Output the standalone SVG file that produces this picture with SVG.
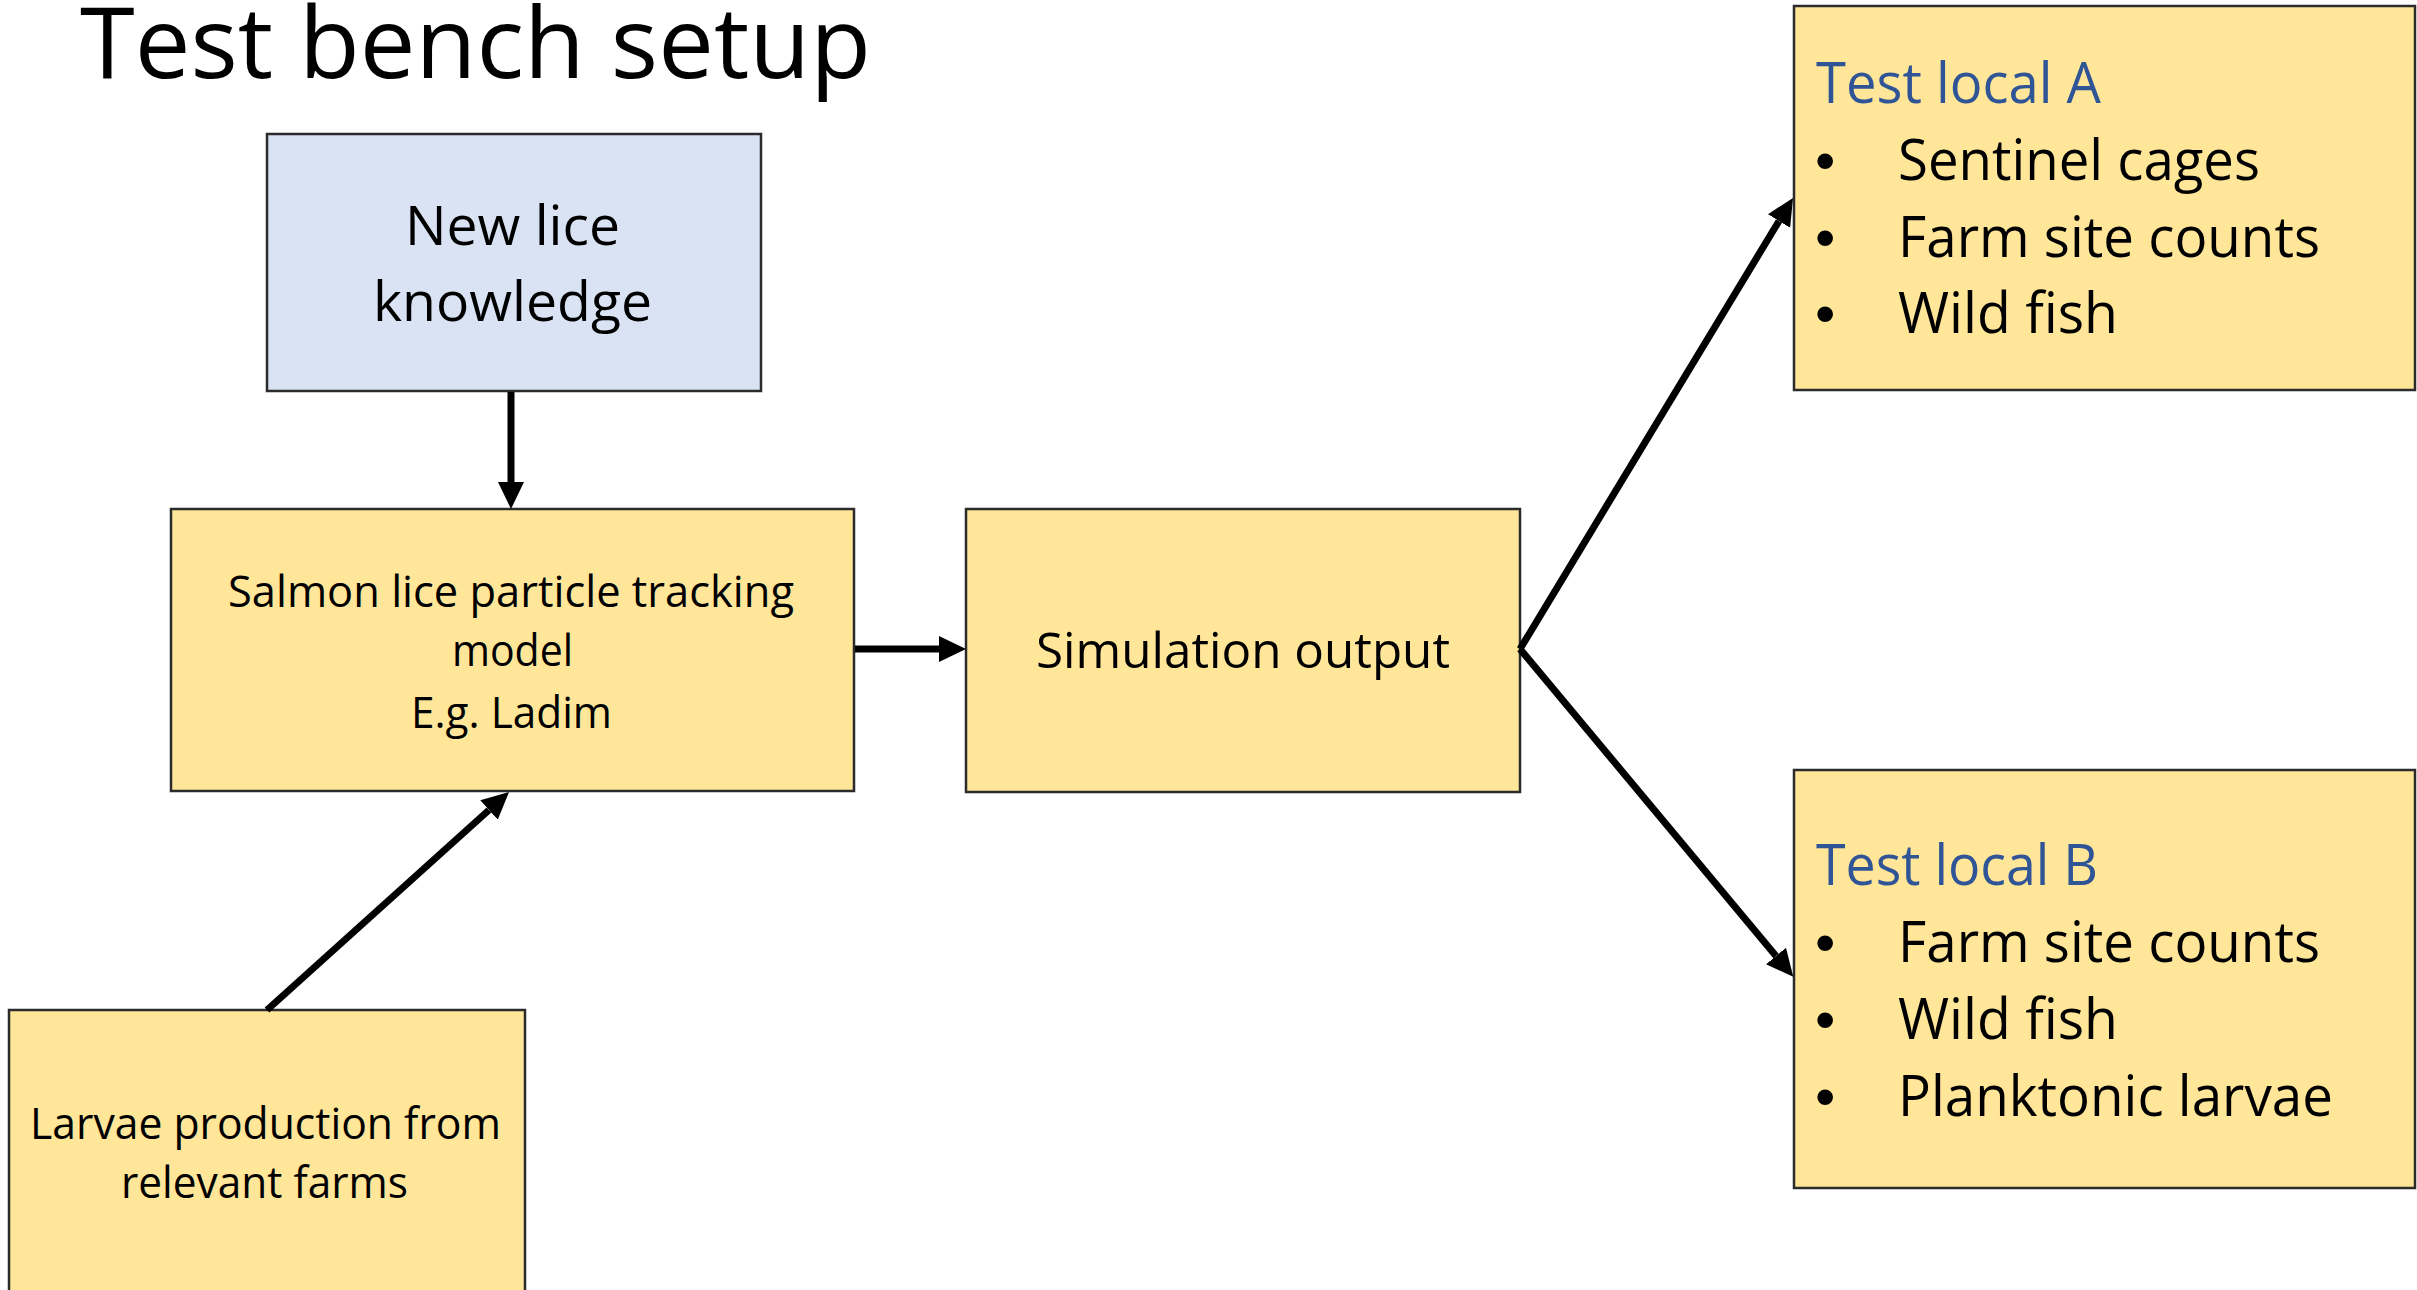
<svg xmlns="http://www.w3.org/2000/svg" width="2417" height="1290" viewBox="0 0 2417 1290">
<style>
.box{stroke:#2b2b2b;stroke-width:2.5}
.yel{fill:#ffe699}
.blu{fill:#dae3f3}
text{font-family:"Open Sans","Noto Sans",sans-serif;fill:#000}
.hd{fill:#2f5597}
.bul{font-family:"Liberation Sans",Arial,sans-serif}
.conn line{stroke:#000;stroke-width:7;fill:none}
</style>
<defs>
<marker id="ah" markerUnits="userSpaceOnUse" markerWidth="28" markerHeight="28" refX="0" refY="13" orient="auto">
<path d="M0,0 L27,13 L0,26 z" fill="#000"/>
</marker>
</defs>
<rect width="2417" height="1290" fill="#fff"/>
<text x="80" y="78" font-size="99" textLength="791" lengthAdjust="spacingAndGlyphs">Test bench setup</text>

<g id="new-lice">
<rect class="box blu" x="267" y="134" width="494" height="257"/>
<text x="405" y="245" font-size="55" textLength="215" lengthAdjust="spacingAndGlyphs">New lice</text>
<text x="373" y="321" font-size="55" textLength="279" lengthAdjust="spacingAndGlyphs">knowledge</text>
</g>

<g id="salmon-model">
<rect class="box yel" x="171" y="509" width="683" height="282"/>
<text x="228" y="607" font-size="43" textLength="566" lengthAdjust="spacingAndGlyphs">Salmon lice particle tracking</text>
<text x="452" y="666" font-size="43" textLength="121" lengthAdjust="spacingAndGlyphs">model</text>
<text x="411" y="728" font-size="43" textLength="201" lengthAdjust="spacingAndGlyphs">E.g. Ladim</text>
</g>

<g id="simulation-output">
<rect class="box yel" x="966" y="509" width="554" height="283"/>
<text x="1036" y="668" font-size="50" textLength="414" lengthAdjust="spacingAndGlyphs">Simulation output</text>
</g>

<g id="larvae-production">
<rect class="box yel" x="9" y="1010" width="516" height="295"/>
<text x="30" y="1139" font-size="43" textLength="471" lengthAdjust="spacingAndGlyphs">Larvae production from</text>
<text x="121" y="1198" font-size="43" textLength="287" lengthAdjust="spacingAndGlyphs">relevant farms</text>
</g>

<g id="test-local-a">
<rect class="box yel" x="1794" y="6" width="621" height="384"/>
<text class="hd" x="1816" y="103" font-size="57" textLength="285" lengthAdjust="spacingAndGlyphs">Test local A</text>
<text class="bul" x="1815" y="180" font-size="58">•</text>
<text x="1898" y="180" font-size="56" textLength="362" lengthAdjust="spacingAndGlyphs">Sentinel cages</text>
<text class="bul" x="1815" y="257" font-size="58">•</text>
<text x="1898" y="257" font-size="56" textLength="422" lengthAdjust="spacingAndGlyphs">Farm site counts</text>
<text class="bul" x="1815" y="333" font-size="58">•</text>
<text x="1898" y="333" font-size="56" textLength="220" lengthAdjust="spacingAndGlyphs">Wild fish</text>
</g>

<g id="test-local-b">
<rect class="box yel" x="1794" y="770" width="621" height="418"/>
<text class="hd" x="1816" y="885" font-size="57" textLength="282" lengthAdjust="spacingAndGlyphs">Test local B</text>
<text class="bul" x="1815" y="962" font-size="58">•</text>
<text x="1898" y="962" font-size="56" textLength="422" lengthAdjust="spacingAndGlyphs">Farm site counts</text>
<text class="bul" x="1815" y="1039" font-size="58">•</text>
<text x="1898" y="1039" font-size="56" textLength="220" lengthAdjust="spacingAndGlyphs">Wild fish</text>
<text class="bul" x="1815" y="1116" font-size="58">•</text>
<text x="1898" y="1116" font-size="56" textLength="435" lengthAdjust="spacingAndGlyphs">Planktonic larvae</text>
</g>

<g id="connectors" class="conn">
<line x1="511" y1="392" x2="511" y2="482" marker-end="url(#ah)"/>
<line x1="855" y1="649" x2="939" y2="649" marker-end="url(#ah)"/>
<line x1="267" y1="1010" x2="489" y2="810" marker-end="url(#ah)"/>
<line x1="1520" y1="649" x2="1779" y2="221" marker-end="url(#ah)"/>
<line x1="1520" y1="649" x2="1776" y2="956" marker-end="url(#ah)"/>
</g>
</svg>
